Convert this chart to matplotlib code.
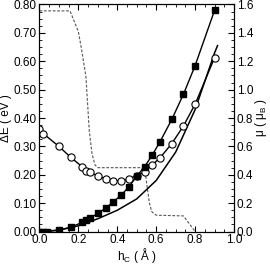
import matplotlib
matplotlib.use("Agg")
import matplotlib.pyplot as plt
from matplotlib.ticker import MultipleLocator, FormatStrFormatter

plt.rcParams['font.family'] = ['Liberation Sans', 'DejaVu Sans']

# filled squares (left axis, Delta E)
sq_h = [0, 0.02, 0.04, 0.10, 0.16, 0.22, 0.24, 0.26, 0.30, 0.34, 0.38, 0.42,
        0.46, 0.50, 0.54, 0.58, 0.62, 0.68, 0.74, 0.80, 0.90]
sq_E = [0, 0, 0, 0.005, 0.015, 0.032, 0.042, 0.047, 0.064, 0.082, 0.105, 0.128,
        0.158, 0.195, 0.228, 0.27, 0.317, 0.395, 0.484, 0.585, 0.78]

# open circles (left axis, Delta E)
ci_h = [0, 0.02, 0.10, 0.16, 0.22, 0.24, 0.26, 0.30, 0.34, 0.38, 0.42, 0.46,
        0.50, 0.54, 0.58, 0.62, 0.68, 0.74, 0.80, 0.90]
ci_E = [0.36, 0.345, 0.30, 0.262, 0.228, 0.215, 0.208, 0.196, 0.185, 0.179,
        0.178, 0.186, 0.197, 0.21, 0.235, 0.26, 0.31, 0.372, 0.449, 0.613]

# solid curve without markers (left axis)
ln_h = [0, 0.1, 0.2, 0.3, 0.4, 0.5, 0.6, 0.7, 0.8, 0.9, 0.915]
ln_E = [0, 0.005, 0.02, 0.045, 0.075, 0.115, 0.18, 0.28, 0.43, 0.63, 0.655]

# dashed magnetic moment (right axis)
mu_h = [0, 0.157, 0.20, 0.217, 0.239, 0.256, 0.27, 0.285, 0.30, 0.52, 0.545,
        0.555, 0.565, 0.577, 0.60, 0.74, 0.80]
mu = [1.555, 1.555, 1.41, 1.28, 1.09, 0.71, 0.55, 0.47, 0.45, 0.45, 0.40,
      0.30, 0.20, 0.14, 0.115, 0.11, 0.0]

fig = plt.figure(figsize=(2.70, 2.64), dpi=100)
ax = fig.add_axes([0.146, 0.123, 0.721, 0.860])
ax2 = ax.twinx()

ax2.plot(mu_h, mu, ls=(0, (2.5, 1.5)), color='#555555', lw=0.8)
ax.plot(ln_h, ln_E, '-', color='black', lw=1.1)
ax.plot(ci_h, ci_E, '-', color='black', lw=1.0, marker='o', ms=5.2,
        mfc='white', mec='black', mew=0.8)
ax.plot(sq_h, sq_E, '-', color='black', lw=1.0, marker='s', ms=5,
        mfc='black', mec='black')

ax.set_zorder(ax2.get_zorder() + 1)
ax.patch.set_visible(False)

ax.set_xlim(0, 1.0)
ax.set_ylim(0, 0.80)
ax2.set_ylim(0, 1.6)

ax.xaxis.set_major_locator(MultipleLocator(0.2))
ax.xaxis.set_minor_locator(MultipleLocator(0.05))
ax.yaxis.set_major_locator(MultipleLocator(0.1))
ax.yaxis.set_minor_locator(MultipleLocator(0.025))
ax2.yaxis.set_major_locator(MultipleLocator(0.2))
ax2.yaxis.set_minor_locator(MultipleLocator(0.05))
ax.xaxis.set_major_formatter(FormatStrFormatter('%.1f'))
ax.yaxis.set_major_formatter(FormatStrFormatter('%.2f'))
ax2.yaxis.set_major_formatter(FormatStrFormatter('%.1f'))

ax.tick_params(which='both', direction='in', top=True, right=False, labelsize=8.5, pad=2)
ax.tick_params(which='major', length=4, width=0.8)
ax.tick_params(which='minor', length=2, width=0.6)
ax2.tick_params(which='both', direction='in', labelsize=8.5, pad=2)
ax2.tick_params(which='major', length=4, width=0.8)
ax2.tick_params(which='minor', length=2, width=0.6)

ax.set_xlabel('h$_\\mathregular{C}$ ( Å )', fontsize=8.5, labelpad=0)
ax.set_ylabel('ΔE ( eV )', fontsize=8.5, labelpad=1)
ax2.set_ylabel('μ ( μ$_\\mathregular{B}$ )', fontsize=8.5, labelpad=0)

for a in (ax, ax2):
    for s in a.spines.values():
        s.set_linewidth(0.8)

fig.savefig('out.png', dpi=100)
